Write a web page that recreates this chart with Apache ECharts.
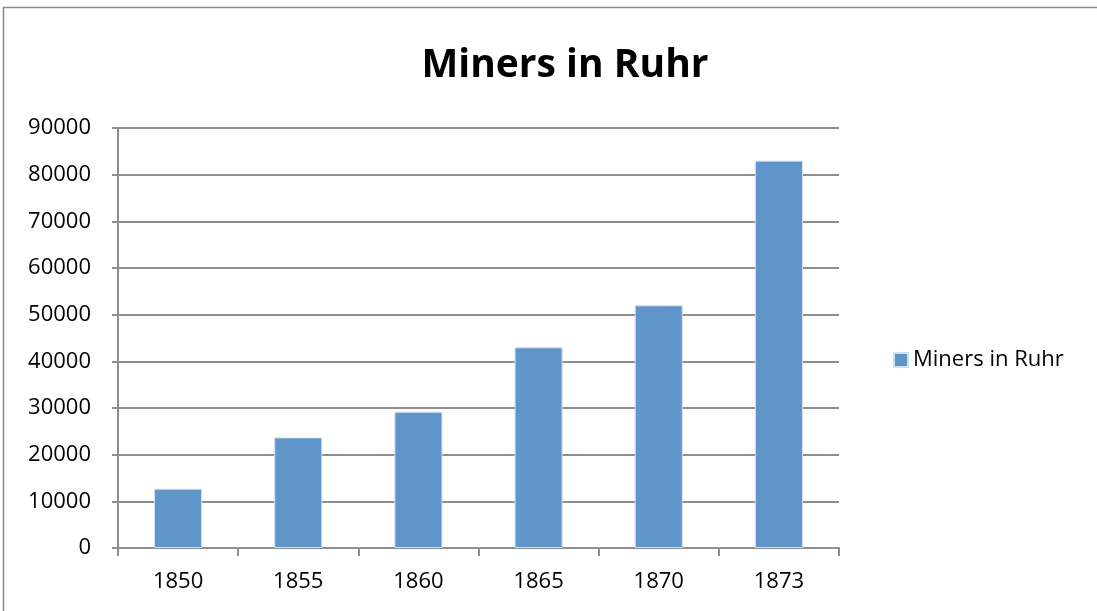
<!DOCTYPE html>
<html>
<head>
<meta charset="utf-8">
<script src="https://cdn.jsdelivr.net/npm/echarts@6/dist/echarts.min.js"></script>
<style>
html,body{margin:0;padding:0;background:#fff;}
#chart{width:1097px;height:611px;}
</style>
</head>
<body>
<div id="chart"></div>
<script>
const chartTitle = "Miners in Ruhr";
const seriesName = "Miners in Ruhr";
const years = ["1850", "1855", "1860", "1865", "1870", "1873"];
const miners = [12700, 23700, 29200, 43000, 52000, 83000];
const yMin = 0, yMax = 90000, yStep = 10000;

const chart = echarts.init(document.getElementById('chart'), null, {renderer: 'canvas'});
const FONT = '"Open Sans", "Liberation Sans", sans-serif';
const GRAY = '#8e8e8e';
chart.setOption({
  backgroundColor: '#ffffff',
  animation: false,
  graphic: [
    {type: 'line', shape: {x1: 3, y1: 7.5, x2: 1097, y2: 7.5}, style: {stroke: '#8a8a8a', lineWidth: 1.5}},
    {type: 'line', shape: {x1: 3.5, y1: 7, x2: 3.5, y2: 611}, style: {stroke: '#8a8a8a', lineWidth: 1.5}}
  ],
  title: {
    text: chartTitle,
    left: 560, top: 41, textAlign: 'center',
    textStyle: {fontFamily: FONT, fontWeight: 'bold', fontSize: 39, color: '#000'}
  },
  legend: {
    data: [seriesName],
    left: 888, top: 344,
    icon: 'rect', itemWidth: 14, itemHeight: 14, itemGap: 8,
    textStyle: {fontFamily: FONT, fontSize: 22, color: '#000', padding: [0, 0, 0, 0]}
  },
  grid: {left: 118, right: 1097 - 839, top: 128, bottom: 611 - 548, containLabel: false},
  xAxis: {
    type: 'category', data: years,
    axisLine: {show: true, lineStyle: {color: GRAY, width: 2}},
    axisTick: {show: true, alignWithLabel: false, length: 8, lineStyle: {color: GRAY, width: 2}},
    axisLabel: {fontFamily: FONT, fontSize: 22, color: '#000', margin: 23}
  },
  yAxis: {
    type: 'value', min: yMin, max: yMax, interval: yStep,
    axisLine: {show: true, lineStyle: {color: GRAY, width: 2}},
    axisTick: {show: true, length: 6, lineStyle: {color: GRAY, width: 2}},
    splitLine: {show: true, lineStyle: {color: GRAY, width: 2}},
    axisLabel: {fontFamily: FONT, fontSize: 22, color: '#000', margin: 27, padding: [5, 0, 0, 0], formatter: v => String(v)}
  },
  series: [{
    name: seriesName, type: 'bar', data: miners,
    barWidth: '40%',
    itemStyle: {color: '#5f95c9', borderColor: '#cfe0f2', borderWidth: 1}
  }]
});
</script>
</body>
</html>
